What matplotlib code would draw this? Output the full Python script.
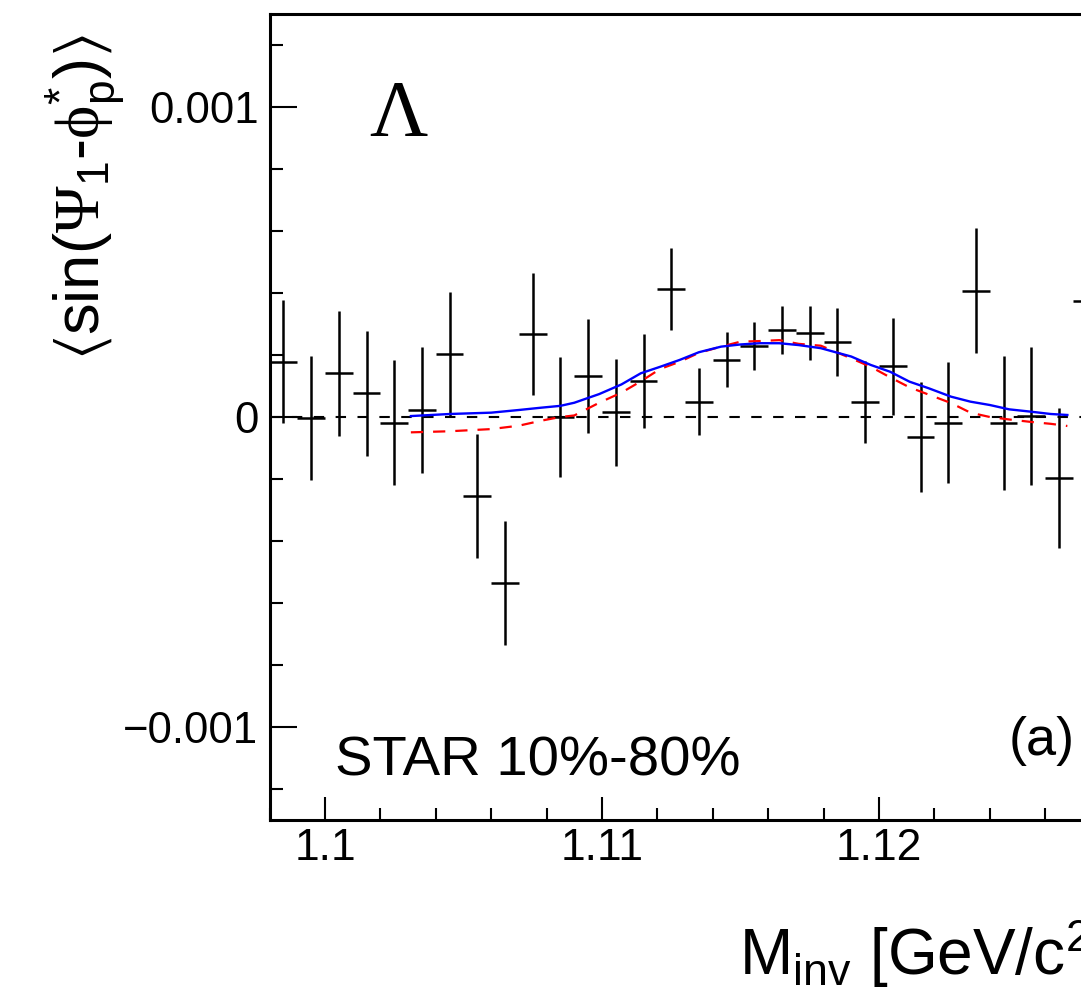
import matplotlib
matplotlib.use('Agg')
import matplotlib.pyplot as plt
from matplotlib.ticker import FixedLocator, FixedFormatter, MultipleLocator

plt.rcParams['font.family'] = ['Liberation Sans', 'DejaVu Sans']
plt.rcParams['mathtext.fontset'] = 'custom'
plt.rcParams['mathtext.rm'] = 'Liberation Sans'
plt.rcParams['mathtext.it'] = 'Liberation Sans:italic'
plt.rcParams['mathtext.bf'] = 'Liberation Sans:bold'
plt.rcParams['mathtext.cal'] = 'Liberation Serif'
plt.rcParams['mathtext.default'] = 'regular'

# ---------------- data ----------------
bin_centers = [1.0985, 1.0995, 1.1005, 1.1015, 1.1025, 1.1035, 1.1045, 1.1055,
               1.1065, 1.1075, 1.1085, 1.1095, 1.1105, 1.1115, 1.1125, 1.1135,
               1.1145, 1.1155, 1.1165, 1.1175, 1.1185, 1.1195, 1.1205, 1.1215,
               1.1225, 1.1235, 1.1245, 1.1255, 1.1265, 1.1275]
values = [0.000178, -0.000003, 0.000141, 0.0000765, -0.0000184, 0.0000226,
          0.000203, -0.000256, -0.000536, 0.000268, 0.000001, 0.000133,
          0.0000155, 0.000116, 0.000412, 0.000050, 0.000184, 0.000229,
          0.000280, 0.000272, 0.000242, 0.0000484, 0.000163, -0.0000635,
          -0.000018, 0.000408, -0.0000194, 0.0000026, -0.000196, 0.000374]
errors = [0.000198, 0.000200, 0.000202, 0.000202, 0.000202, 0.000202,
          0.000200, 0.000200, 0.000199, 0.000197, 0.000194, 0.000183,
          0.000173, 0.000153, 0.000132, 0.000109, 0.0000887, 0.000078,
          0.0000768, 0.0000871, 0.000109, 0.000131, 0.000157, 0.000177,
          0.000194, 0.000203, 0.000215, 0.000222, 0.000226, 0.000232]
bin_half_width = 0.0005

curve_x = [1.1031, 1.1045, 1.1060, 1.1070, 1.1078, 1.1085, 1.1090, 1.1099,
           1.1107, 1.1114, 1.1121, 1.1128, 1.1135, 1.1143, 1.1150, 1.1157,
           1.1164, 1.1171, 1.1179, 1.1190, 1.1197, 1.1204, 1.1211, 1.1218,
           1.1226, 1.1233, 1.1240, 1.1247, 1.1255, 1.1262, 1.1268]
blue_curve = [0.000003, 0.0000097, 0.000014, 0.0000226, 0.000030, 0.0000360,
              0.000046, 0.0000740, 0.000105, 0.000141, 0.000162, 0.000184,
              0.000209, 0.000227, 0.000234, 0.000238, 0.000238, 0.000232,
              0.000222, 0.000195, 0.000168, 0.000146, 0.000114, 0.0000925,
              0.0000656, 0.0000495, 0.0000387, 0.0000247, 0.000017, 0.0000097,
              0.0000065]
red_curve = [-0.0000495, -0.000046, -0.000039, -0.000028, -0.000012, 0.0,
             0.000005, 0.000046, 0.0000785, 0.000115, 0.000155, 0.000178,
             0.000207, 0.000227, 0.000243, 0.000245, 0.000248, 0.000236,
             0.000230, 0.000189, 0.000162, 0.000128, 0.0000957, 0.000072,
             0.000045, 0.000014, 0.0, -0.000008, -0.000016, -0.000022,
             -0.000029]

xtick_vals = [1.10, 1.11, 1.12, 1.13]
xtick_labels = ['1.1', '1.11', '1.12', '']
ytick_vals = [-0.001, 0.0, 0.001]
ytick_labels = ['\u22120.001', '0', '0.001']

# ---------------- figure ----------------
W, H = 1081, 992
fig = plt.figure(figsize=(W / 100, H / 100), dpi=100)


def fx(px):
    return px / W


def fy(py):
    return 1 - py / H


x_lo, x_hi = 1.098, 1.134
y_lo, y_hi = -0.0013, 0.0013
px_per_x = 27700.0
left_px = 269.6
right_px = left_px + (x_hi - x_lo) * px_per_x
ax = fig.add_axes([fx(left_px), fy(820), (right_px - left_px) / W, 806 / H])
ax.set_xlim(x_lo, x_hi)
ax.set_ylim(y_lo, y_hi)

ax.axhline(0, color='black', lw=1.5, ls=(0, (5, 5.5)), zorder=1)
ax.errorbar(bin_centers, values, yerr=errors, xerr=bin_half_width, fmt='none',
            ecolor='black', elinewidth=1.8, capsize=0, zorder=2)
ax.plot(curve_x, red_curve, color='#ff0000', lw=1.6, ls=(0, (5.5, 4.5)), zorder=3)
ax.plot(curve_x, blue_curve, color='#0000ff', lw=1.7, zorder=4)

ax.xaxis.set_major_locator(FixedLocator(xtick_vals))
ax.xaxis.set_major_formatter(FixedFormatter(xtick_labels))
ax.xaxis.set_minor_locator(MultipleLocator(0.002))
ax.yaxis.set_major_locator(FixedLocator(ytick_vals))
ax.yaxis.set_major_formatter(FixedFormatter(ytick_labels))
ax.yaxis.set_minor_locator(MultipleLocator(0.0002))

ax.tick_params(axis='x', which='major', direction='in', length=16.5, width=1.5,
               labelsize=32, pad=6, top=False)
ax.tick_params(axis='x', which='minor', direction='in', length=8.5, width=1.5, top=False)
ax.tick_params(axis='y', which='major', direction='in', length=19.5, width=1.5,
               labelsize=31.5, pad=8, right=False)
ax.tick_params(axis='y', which='minor', direction='in', length=9.5, width=1.5, right=False)
for s in ax.spines.values():
    s.set_linewidth(2.2)

fig.text(fx(398), fy(136), '\u039b', family='Liberation Serif', fontsize=58,
         ha='center', va='baseline')
fig.text(fx(335), fy(776), 'STAR 10%-80%', fontsize=40.5, va='baseline')
fig.text(fx(1075), fy(755), '(a)', fontsize=39, ha='right', va='baseline')
fig.text(fx(739), fy(975), r'M$_{inv}$ [GeV/c$^{2}$]', fontsize=46, va='baseline')
fig.text(fx(86), fy(35),
         r'$\langle sin(\mathcal{\Psi}_{1}$-$\mathcal{\phi}^{*}_{p})\rangle$',
         rotation=90, fontsize=45.5, ha='center', va='top')

fig.savefig('out.png', dpi=100)
